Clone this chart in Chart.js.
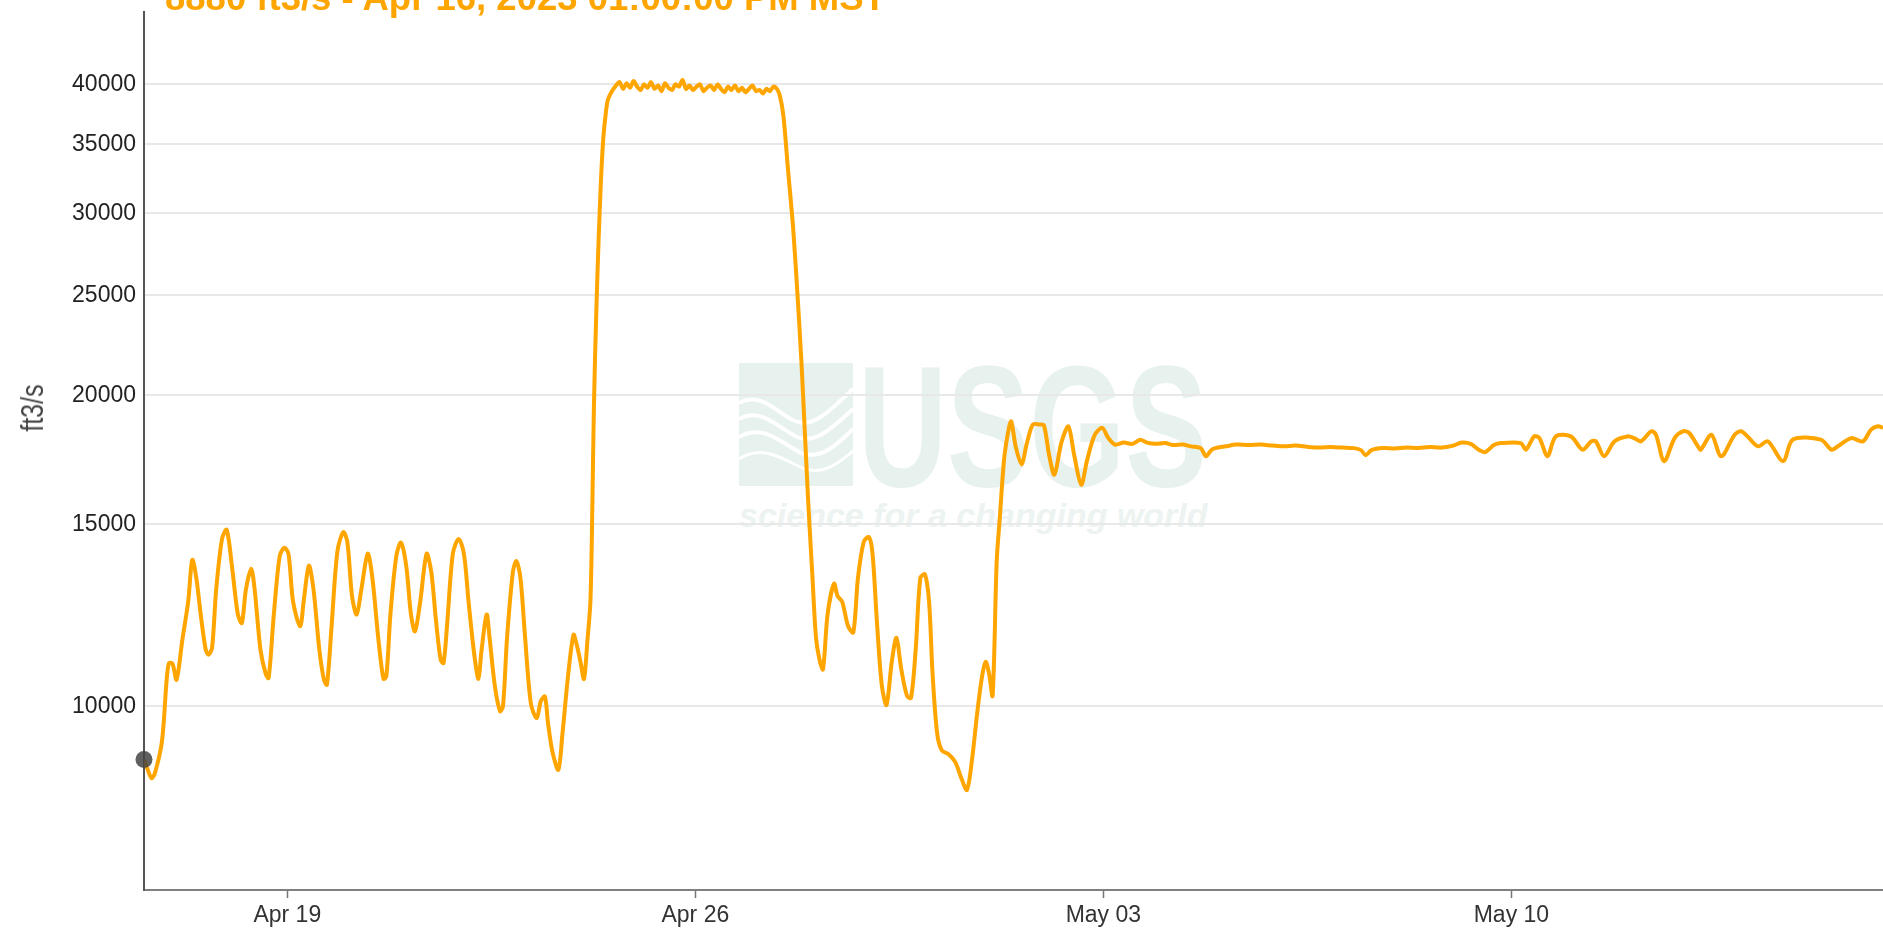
<!DOCTYPE html>
<html lang="en">
<head>
<meta charset="UTF-8">
<title>Streamflow ft3/s</title>
<script src="https://cdn.jsdelivr.net/npm/chart.js"></script>
<style>
    body {
        margin: 0;
        background: #ffffff;
        overflow: hidden;
        font-family: "Liberation Sans", Arial, sans-serif;
    }
    .wrap {
        position: relative;
        width: 1883px;
        height: 928px;
        overflow: hidden;
    }
    #flowChart {
        position: absolute;
        left: 0;
        top: 0;
        z-index: 2;
    }
    .title {
        position: absolute;
        left: 165px;
        top: -20px;
        font-size: 36.5px;
        line-height: 36px;
        font-weight: bold;
        color: #ffa500;
        white-space: nowrap;
        z-index: 3;
    }
    .ylabel {
        position: absolute;
        left: 32px;
        top: 408px;
        font-size: 32px;
        line-height: 32px;
        color: #444;
        white-space: nowrap;
        transform: translate(-50%, -50%) rotate(-90deg) scaleX(0.78);
        z-index: 3;
    }
    .wm-logo {
        position: absolute;
        left: 739px;
        top: 363px;
        z-index: 1;
    }
    .wm-usgs {
        position: absolute;
        left: 858px;
        top: 340px;
        font-size: 172px;
        line-height: 172px;
        font-weight: bold;
        color: #e7f1ed;
        transform: scaleX(0.717);
        transform-origin: left top;
        z-index: 1;
        white-space: nowrap;
    }
    .wm-text {
        position: absolute;
        left: 739px;
        top: 498px;
        font-size: 34px;
        line-height: 34px;
        font-weight: bold;
        font-style: italic;
        color: #ecf3f0;
        z-index: 1;
        white-space: nowrap;
    }
</style>
</head>
<body>
<div class="wrap">
    <div class="title" id="title"></div>
    <div class="ylabel">ft3/s</div>
    <svg class="wm-logo" width="114" height="123" viewBox="0 0 114 123">
        <rect x="0" y="0" width="114" height="123" fill="#e7f1ed"/>
        <path d="M0,40 C22,28 38,50 56,58 C76,66 94,44 114,26" stroke="#fff" stroke-width="4" fill="none"/>
        <path d="M0,56 C22,44 38,64 58,74 C78,82 96,62 114,46" stroke="#fff" stroke-width="4" fill="none"/>
        <path d="M0,74 C24,60 42,80 62,90 C82,98 100,80 114,66" stroke="#fff" stroke-width="4" fill="none"/>
        <path d="M0,96 C26,80 46,98 66,106 C86,112 102,98 114,88" stroke="#fff" stroke-width="3" fill="none"/>
    </svg>
    <div class="wm-usgs">USGS</div>
    <div class="wm-text">science for a changing world</div>
    <canvas id="flowChart" width="1883" height="928"></canvas>
</div>
<script>
// time in days since Apr 16 2023 00:00 (MST), discharge in ft3/s
const days = [
    0.5417, 0.60, 0.67, 0.73, 0.85, 0.93, 0.97, 1.03, 1.10, 1.20, 1.30, 1.37, 1.44, 1.52, 1.60, 1.65, 1.71, 1.78, 1.88, 1.96,
    2.05, 2.15, 2.22, 2.29, 2.38, 2.44, 2.54, 2.63, 2.68, 2.77, 2.87, 2.95, 3.02, 3.10, 3.22, 3.28, 3.37, 3.45, 3.55, 3.63,
    3.68, 3.76, 3.86, 3.96, 4.03, 4.11, 4.19, 4.27, 4.38, 4.46, 4.56, 4.65, 4.70, 4.77, 4.87, 4.95, 5.04, 5.12, 5.19, 5.28,
    5.39, 5.47, 5.55, 5.63, 5.68, 5.74, 5.84, 5.94, 6.03, 6.11, 6.21, 6.28, 6.33, 6.42, 6.47, 6.56, 6.65, 6.70, 6.77, 6.87,
    6.93, 7.00, 7.08, 7.18, 7.28, 7.35, 7.42, 7.47, 7.55, 7.65, 7.72, 7.82, 7.91, 7.96, 8.03, 8.09, 8.15, 8.20, 8.23, 8.26,
    8.30, 8.34, 8.38, 8.42, 8.46, 8.50, 8.58,
    8.64, 8.70, 8.76, 8.82, 8.88, 8.94, 9.00, 9.06, 9.12, 9.18, 9.24, 9.30, 9.36, 9.42, 9.48, 9.54, 9.60, 9.66, 9.72, 9.78,
    9.84, 9.90, 9.96, 10.02, 10.08, 10.14, 10.20, 10.26, 10.32, 10.38, 10.44, 10.50, 10.56, 10.62, 10.68, 10.74, 10.80, 10.86,
    10.92, 10.98, 11.04, 11.10, 11.16, 11.22, 11.28, 11.34, 11.40,
    11.45, 11.51, 11.59, 11.68, 11.76, 11.82, 11.88, 11.94, 12.01, 12.07, 12.13, 12.19, 12.27, 12.38, 12.44, 12.52, 12.62, 12.71,
    12.79, 12.89, 12.98, 13.04, 13.12, 13.20, 13.28, 13.37, 13.45, 13.53, 13.63, 13.70, 13.78, 13.86, 13.94, 14.01, 14.07, 14.15,
    14.23, 14.34, 14.46, 14.56, 14.66, 14.75, 14.83, 14.91, 14.98, 15.04, 15.10, 15.17, 15.22, 15.30, 15.38, 15.42, 15.50, 15.60,
    15.68, 15.79, 15.90, 15.98, 16.07, 16.16, 16.28, 16.40, 16.50, 16.62, 16.72, 16.85, 16.98, 17.08, 17.20,
    17.35, 17.50, 17.63, 17.75, 17.90, 18.06, 18.20, 18.36, 18.50, 18.67, 18.76, 18.85, 18.92, 19.10, 19.28, 19.50, 19.70, 19.90,
    20.10, 20.30, 20.50, 20.70, 20.90, 21.10, 21.30, 21.42, 21.50, 21.60, 21.80, 22.00, 22.20, 22.40, 22.60, 22.80, 23.00, 23.15,
    23.30, 23.45, 23.55, 23.70,
    23.82, 24.16, 24.25, 24.39, 24.48, 24.62, 24.76, 25.02, 25.22, 25.37, 25.45, 25.59, 25.77, 25.99, 26.11, 26.22, 26.40, 26.48,
    26.62, 26.80, 26.94, 27.05, 27.20, 27.25, 27.43, 27.60, 27.83, 27.94, 28.05, 28.23, 28.40, 28.66, 28.83, 29.31, 29.49, 29.60,
    29.83, 30.03, 30.17, 30.29, 30.375
];
const flow = [
    8880, 8700, 8520, 8620, 9250, 10600, 11010, 11000, 10610, 11600, 12630, 13860, 13300, 12200, 11350, 11220, 11400, 12970, 14520, 14820,
    13680, 12290, 12040, 12970, 13590, 12970, 11340, 10750, 10650, 12290, 13980, 14240, 14050, 12620, 11950, 12620, 13680, 12970, 11340, 10600,
    10490, 11960, 14130, 14740, 14430, 12790, 12270, 12970, 14050, 13310, 11650, 10630, 10700, 12290, 13980, 14400, 13680, 12290, 11820, 12620,
    14050, 13490, 12120, 11100, 11010, 11960, 14050, 14520, 14050, 12620, 11190, 10630, 11300, 12270, 11650, 10470, 9890, 10000, 11650, 13490,
    13820, 13310, 11650, 10050, 9740, 10120, 10220, 9660, 9030, 8680, 9400, 10750, 11730, 11500, 11040, 10630, 11600, 12630, 15200, 19500,
    23990, 28180, 32210, 35390, 37330, 38650, 39480,
    39900, 40200, 39600, 40100, 39700, 40300, 39800, 39500, 40000, 39700, 40200, 39600, 39900, 39400, 40100, 39700, 39500, 40000, 39800, 40400,
    39600, 39900, 39500, 39800, 40000, 39400, 39700, 39900, 39500, 40000, 39600, 39300, 39800, 39500, 39900, 39400, 39700, 39300,
    39600, 39900, 39400, 39500, 39200, 39600, 39400, 39800, 39600,
    39000, 37330, 33080, 28930, 24650, 21560, 18360, 15640, 13320, 11650, 11100, 10860, 12290, 13140, 12790, 12620, 11960, 11790,
    13310, 14430, 14580, 14050, 11960, 10470, 10030, 11040, 11650, 10890, 10240, 10190, 11340, 13310, 13420, 12620, 10750, 9400,
    9060, 8990, 8830, 8530, 8300, 8910, 9790, 10610, 11040, 10750, 10240, 13810, 15130, 17400, 18600, 18870, 17800, 17140,
    17900, 18740, 18740, 18700, 17500, 16760, 18000, 18660, 17500, 16390, 17300, 18300, 18600, 18200, 17920,
    18000, 17950, 18110, 18000, 17950, 17980, 17900, 17920, 17850, 17780, 17460, 17700, 17780, 17850, 17920, 17900, 17920, 17880,
    17850, 17880, 17830, 17800, 17820, 17800, 17780, 17700, 17500, 17700, 17780, 17760, 17800, 17780, 17820, 17800, 17880, 18000,
    17950, 17700, 17620, 17900,
    17980, 17980, 17720, 18250, 18180, 17460, 18250, 18250, 17720, 18050, 18050, 17460, 18050, 18250, 18180, 18050, 18460, 18320,
    17270, 18180, 18460, 18390, 17850, 17720, 18320, 17460, 18320, 18460, 18250, 17850, 18050, 17270, 18120, 18120, 17720, 17850,
    18180, 18050, 18530, 18670, 18600
];

const yTicks = [10000, 15000, 20000, 25000, 30000, 35000, 40000];
const xTickDays = [3, 10, 17, 24];
const xTickLabels = ['Apr 19', 'Apr 26', 'May 03', 'May 10'];
const titleText = '8880 ft3/s - Apr 16, 2023 01:00:00 PM MST';

document.getElementById('title').textContent = titleText;

const tickFont = { family: '"Liberation Sans", Arial, sans-serif', size: 23 };

new Chart(document.getElementById('flowChart').getContext('2d'), {
    type: 'line',
    data: {
        datasets: [{
            // highlighted point (first reading)
            data: [{ x: days[0], y: flow[0] }],
            showLine: false,
            pointRadius: 8.5,
            pointBackgroundColor: 'rgba(68,68,68,0.85)',
            pointBorderWidth: 0,
            clip: false,
            order: 0
        }, {
            data: days.map((d, i) => ({ x: d, y: flow[i] })),
            borderColor: '#ffa500',
            borderWidth: 4,
            pointRadius: 0,
            tension: 0.3,
            fill: false,
            order: 1
        }]
    },
    options: {
        responsive: false,
        animation: false,
        devicePixelRatio: 1,
        layout: { autoPadding: false, padding: { top: 12, left: 0, right: 0, bottom: 0 } },
        plugins: {
            legend: { display: false },
            tooltip: { enabled: false }
        },
        scales: {
            x: {
                type: 'linear',
                min: days[0],
                max: 30.375,
                afterBuildTicks: (scale) => {
                    scale.ticks = xTickDays.map(v => ({ value: v }));
                },
                afterFit: (scale) => {
                    scale.height = 38;
                    scale.paddingLeft = 0;
                    scale.paddingRight = 0;
                },
                ticks: {
                    autoSkip: false,
                    maxRotation: 0,
                    padding: 4,
                    color: '#333',
                    font: tickFont,
                    callback: (value, index) => xTickLabels[index]
                },
                grid: {
                    drawOnChartArea: false,
                    drawTicks: true,
                    tickLength: 8,
                    tickColor: '#777',
                    tickWidth: 1.5
                },
                border: { color: '#808080', width: 2 }
            },
            y: {
                type: 'logarithmic',
                min: 6640,
                max: 47000,
                afterBuildTicks: (scale) => {
                    scale.ticks = yTicks.map(v => ({ value: v }));
                },
                afterFit: (scale) => {
                    scale.width = 144;
                    scale.paddingTop = 0;
                    scale.paddingBottom = 0;
                },
                ticks: {
                    padding: 8,
                    color: '#222',
                    font: tickFont,
                    callback: (value) => String(value)
                },
                grid: {
                    color: '#e8e8e8',
                    lineWidth: 2,
                    drawTicks: false
                },
                border: { color: '#555', width: 2 }
            }
        }
    }
});
</script>
</body>
</html>
